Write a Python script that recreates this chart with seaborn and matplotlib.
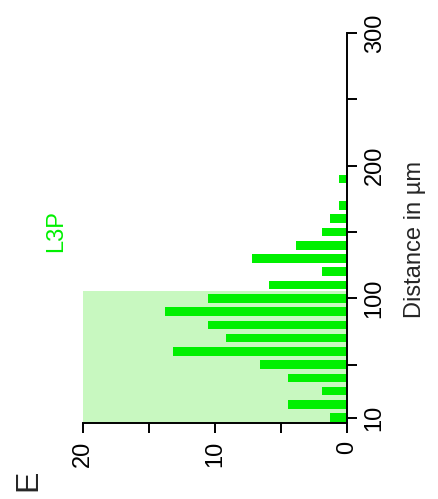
import matplotlib
matplotlib.use("Agg")
import matplotlib.pyplot as plt
import seaborn as sns
import pandas as pd
from matplotlib.ticker import FixedLocator

# Data (distance bins in µm and counts)
distances = [10, 20, 30, 40, 50, 60, 70, 80, 90, 100, 110, 120, 130, 140, 150, 160, 170, 180, 190]
counts = [1.3, 4.5, 1.9, 4.5, 6.6, 13.2, 9.2, 10.5, 13.8, 10.5, 5.9, 1.9, 7.2, 3.9, 1.9, 1.3, 0.6, 0.0, 0.6]
count_ticks = [0, 10, 20]
count_minor = [5, 15]
dist_ticks = [10, 100, 200, 300]
dist_minor = [50, 150, 250]
shade_range = (6, 105.5)
title = "L3P"
panel = "E"
ylabel = "Distance in µm"

sns.set_style("ticks")
plt.rcParams["font.family"] = ["Liberation Sans", "DejaVu Sans"]

df = pd.DataFrame({"distance": distances, "count": counts})

fig = plt.figure(figsize=(4.38, 4.99), dpi=100)
ax = fig.add_axes([83 / 438, 76 / 499, (347 - 83) / 438, (423 - 33) / 499])

ax.axhspan(shade_range[0], shade_range[1], color="#c8f8c0", zorder=0, lw=0)
sns.barplot(data=df, x="count", y="distance", orient="h", native_scale=True,
            color="#00f000", saturation=1, width=0.65, errorbar=None, ax=ax, zorder=2,
            linewidth=0)

ax.set_xlim(20, 0)
ax.set_ylim(6, 300)

ax.xaxis.set_major_locator(FixedLocator(count_ticks))
ax.xaxis.set_minor_locator(FixedLocator(count_minor))
ax.yaxis.set_major_locator(FixedLocator(dist_ticks))
ax.yaxis.set_minor_locator(FixedLocator(dist_minor))
ax.set_xticklabels([str(t) for t in count_ticks], rotation=90, ha="center", va="top", fontsize=17)
ax.yaxis.tick_right()
ax.set_yticklabels([str(t) for t in dist_ticks], rotation=90, ha="left", va="center", fontsize=17)

for side in ["top", "left"]:
    ax.spines[side].set_visible(False)
for side in ["bottom", "right"]:
    ax.spines[side].set_linewidth(1.4)
    ax.spines[side].set_color("black")

ax.tick_params(axis="both", which="both", direction="out", length=7, width=1.4, colors="black")
ax.tick_params(axis="x", which="major", pad=6)
ax.tick_params(axis="y", which="major", pad=5)
ax.set_xlabel("")
ax.set_ylabel("")

fig.text(415 / 438, 1 - 240 / 499, ylabel, rotation=90, ha="center", va="center", fontsize=17)
fig.text(56 / 438, 1 - 231 / 499, title, rotation=90, ha="center", va="center", fontsize=17, color="#00f000")
fig.text(28 / 438, 1 - 480 / 499, panel, rotation=90, ha="center", va="center", fontsize=23)

fig.savefig("out.png", dpi=100, facecolor="white")
